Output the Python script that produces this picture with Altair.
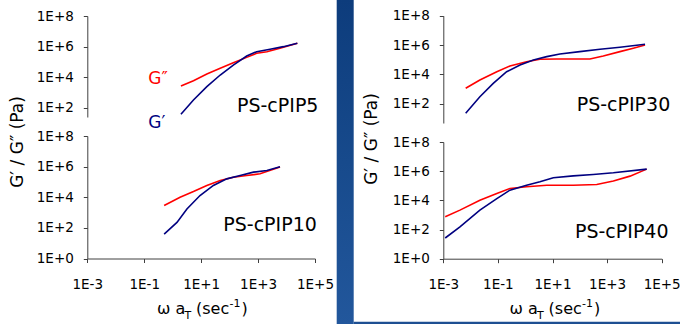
import altair as alt
import pandas as pd

W, H = 680, 324
FONT = "DejaVu Sans"

# tick values
x_ticks = [1e-3, 1e-1, 1e1, 1e3, 1e5]
y_ticks = [1e0, 1e2, 1e4, 1e6, 1e8]

# PS-cPIP5 (log10 values)
pip5_gpp_x = [0.29, 0.73, 1.20, 1.67, 2.13, 2.60, 2.95, 3.31, 3.77, 4.38]
pip5_gpp_y = [3.43, 3.78, 4.22, 4.59, 4.95, 5.30, 5.57, 5.67, 5.89, 6.22]
pip5_gp_x = [0.29, 0.73, 1.20, 1.67, 2.13, 2.60, 2.95, 3.42, 3.89, 4.38]
pip5_gp_y = [1.59, 2.52, 3.39, 4.15, 4.80, 5.39, 5.67, 5.83, 6.00, 6.22]

# PS-cPIP10
pip10_gpp_x = [-0.30, 0.26, 0.73, 1.20, 1.67, 2.13, 2.60, 3.07, 3.77]
pip10_gpp_y = [3.46, 4.00, 4.37, 4.77, 5.10, 5.31, 5.42, 5.53, 5.97]
pip10_gp_x = [-0.30, 0.15, 0.50, 0.96, 1.43, 1.90, 2.37, 2.84, 3.31, 3.77]
pip10_gp_y = [1.59, 2.36, 3.23, 4.11, 4.77, 5.20, 5.42, 5.64, 5.75, 5.99]

# PS-cPIP30
pip30_gpp_x = [-2.18, -1.66, -1.04, -0.56, 0.05, 0.54, 1.15, 1.76, 2.37, 2.86, 3.47, 3.96, 4.39]
pip30_gpp_y = [3.05, 3.62, 4.18, 4.57, 4.86, 5.03, 5.05, 5.05, 5.05, 5.25, 5.55, 5.78, 6.00]
pip30_gp_x = [-2.18, -1.66, -1.17, -0.68, -0.19, 0.30, 0.79, 1.27, 2.00, 2.74, 3.47, 4.39]
pip30_gp_y = [1.35, 2.48, 3.39, 4.18, 4.64, 4.98, 5.21, 5.39, 5.55, 5.71, 5.85, 6.05]

# PS-cPIP40
pip40_gpp_x = [-2.93, -2.39, -1.66, -1.04, -0.56, 0.05, 0.79, 1.76, 2.62, 3.23, 3.84, 4.45]
pip40_gpp_y = [2.87, 3.33, 4.01, 4.47, 4.81, 4.93, 5.04, 5.04, 5.09, 5.32, 5.66, 6.14]
pip40_gp_x = [-2.93, -2.39, -1.66, -1.04, -0.56, 0.05, 0.54, 1.03, 1.76, 2.49, 3.23, 4.45]
pip40_gp_y = [1.42, 2.18, 3.33, 4.12, 4.70, 5.04, 5.27, 5.55, 5.68, 5.77, 5.89, 6.14]

series_names = ["G''", "G'"]
series_colors = ["#ff0000", "#000080"]


def make_df(gpp_x, gpp_y, gp_x, gp_y):
    rows = []
    for i, (a, b) in enumerate(zip(gpp_x, gpp_y)):
        rows.append({"w": 10 ** a, "G": 10 ** b, "s": "G''", "o": i})
    for i, (a, b) in enumerate(zip(gp_x, gp_y)):
        rows.append({"w": 10 ** a, "G": 10 ** b, "s": "G'", "o": i})
    return pd.DataFrame(rows)


LABEL_EXPR = ("'1E' + (round(log(datum.value)/LN10) < 0 ? '-' : '+') + "
              "abs(round(log(datum.value)/LN10))")
AX = dict(domainColor="#404040", tickColor="#404040", tickSize=4,
          labelColor="#000000", labelFont=FONT, labelFontSize=13.5,
          grid=False, title=None, labelFlush=False, labelOverlap=False)


def panel(df, xr, yr, ylo, show_x):
    yaxis = alt.Axis(orient="left", offset=-xr[0],
                     values=[v for v in y_ticks if v >= ylo],
                     labelExpr=LABEL_EXPR, labelPadding=10, **AX)
    if show_x:
        xaxis = alt.Axis(orient="bottom", offset=yr[0] - H, values=x_ticks,
                         labelExpr=LABEL_EXPR, labelPadding=15, **AX)
    else:
        xaxis = None
    return alt.Chart(df).mark_line(strokeWidth=1.6, clip=False).encode(
        x=alt.X("w:Q", scale=alt.Scale(type="log", domain=[1e-3, 1e5], range=xr, nice=False),
                axis=xaxis),
        y=alt.Y("G:Q", scale=alt.Scale(type="log", domain=[ylo, 1e8], range=yr, nice=False),
                axis=yaxis),
        color=alt.Color("s:N", scale=alt.Scale(domain=series_names, range=series_colors),
                        legend=None),
        order="o:Q",
    )


one = pd.DataFrame({"a": [0]})


def txt(t, x, y, size, color="#000000", align="left", baseline="alphabetic", angle=0):
    kw = dict(text=t, fontSize=size, font=FONT, color=color, align=align, baseline=baseline)
    if angle:
        kw["angle"] = angle
    return alt.Chart(one).mark_text(**kw).encode(x=alt.value(x), y=alt.value(y))


grad = alt.Gradient(gradient="linear", x1=0, x2=0, y1=0, y2=1,
                    stops=[alt.GradientStop(color="#0d3c7c", offset=0),
                           alt.GradientStop(color="#174a8c", offset=0.5),
                           alt.GradientStop(color="#22579c", offset=1)])
strip = alt.Chart(one).mark_rect(color=grad).encode(
    x=alt.value(336.7), x2=alt.value(353.7), y=alt.value(0), y2=alt.value(H))
strip2 = alt.Chart(one).mark_rect(color="#1d4f92").encode(
    x=alt.value(353.7), x2=alt.value(W), y=alt.value(321.7), y2=alt.value(H))

lt = panel(make_df(pip5_gpp_x, pip5_gpp_y, pip5_gp_x, pip5_gp_y),
           [87.3, 315], [117, 16], 10 ** 1.41, False)
lb = panel(make_df(pip10_gpp_x, pip10_gpp_y, pip10_gp_x, pip10_gp_y),
           [87.3, 315], [258.5, 136], 1.0, True)
rt = panel(make_df(pip30_gpp_x, pip30_gpp_y, pip30_gp_x, pip30_gp_y),
           [443.3, 661.7], [123, 15.7], 10 ** 0.685, False)
rb = panel(make_df(pip40_gpp_x, pip40_gpp_y, pip40_gp_x, pip40_gp_y),
           [443.3, 661.7], [258.7, 142], 1.0, True)

texts = [
    txt("PS-cPIP5", 237, 112, 19),
    txt("PS-cPIP10", 223.3, 230.5, 19),
    txt("PS-cPIP30", 576.7, 111, 19),
    txt("PS-cPIP40", 575, 237.7, 19),
    txt("G\u2033", 148.3, 83.5, 17, color="#ff0000"),
    txt("G\u2032", 148.3, 128.3, 17, color="#000080"),
    txt("G\u2032 / G\u2033 (Pa)", 17.5, 142, 17, align="center", baseline="middle", angle=270),
    txt("G\u2032 / G\u2033 (Pa)", 372, 139, 17, align="center", baseline="middle", angle=270),
]
for dx in [0, 352.6]:
    texts += [
        txt("\u03c9 a", 157 + dx, 313.5, 16),
        txt("T", 184.5 + dx, 318.5, 11),
        txt("(sec", 196 + dx, 313.5, 16),
        txt("-1", 229.5 + dx, 307, 11),
        txt(")", 241.5 + dx, 313.5, 16),
    ]

chart = alt.layer(strip, strip2, lt, lb, rt, rb, *texts).resolve_scale(
    x="independent", y="independent"
).properties(
    width=W, height=H, padding=0, autosize=alt.AutoSizeParams(type="none"),
    background="#ffffff",
).configure_view(stroke=None)

chart.save("out.html", embed_options={"renderer": "svg", "actions": False})
